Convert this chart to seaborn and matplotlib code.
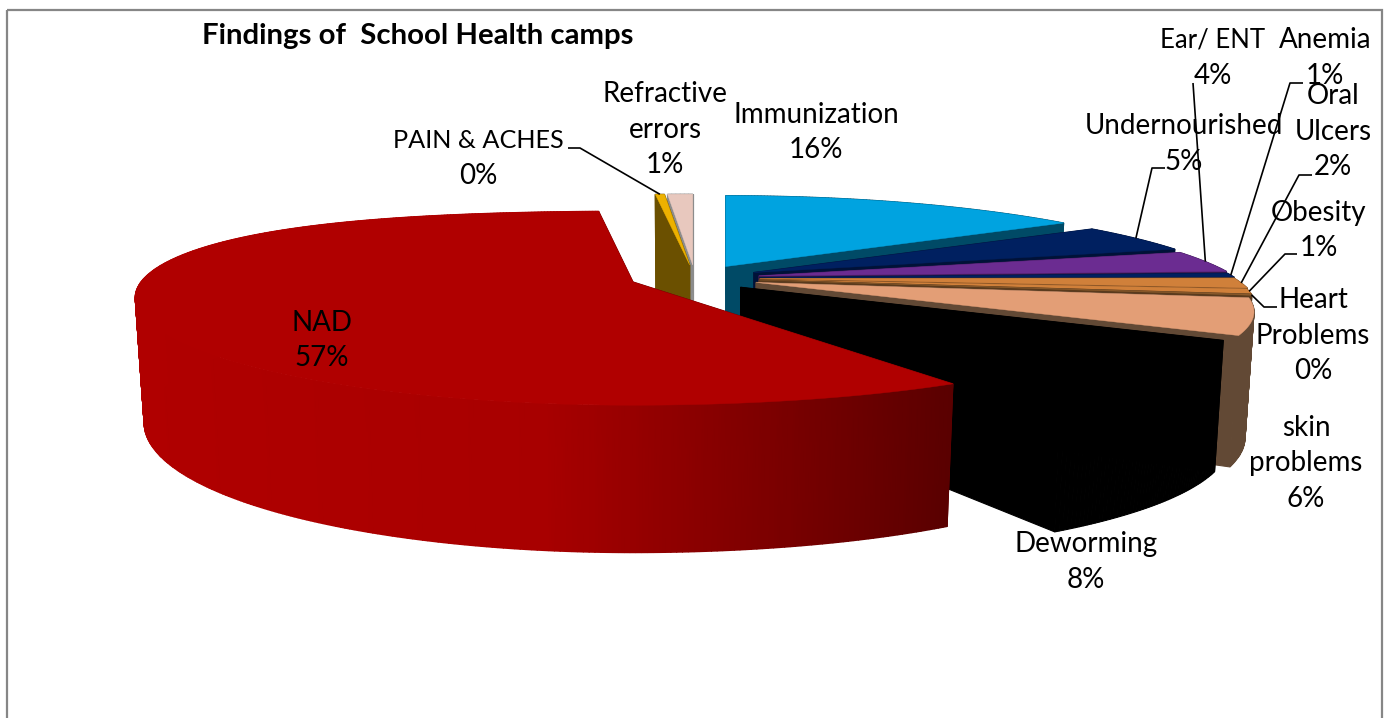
import numpy as np
import seaborn as sns
import matplotlib.pyplot as plt
from matplotlib.patches import Rectangle

# clockwise from the top of the pie, in percent
names = [
    "Immunization", "Undernourished", "Ear/ ENT", "Anemia", "Oral\nUlcers",
    "Obesity", "Heart\nProblems", "skin\nproblems", "Deworming", "NAD",
    "PAIN & ACHES", "Refractive\nerrors",
]
values = [15.6, 4.9, 3.7, 0.7, 1.7, 0.8, 0.2, 5.9, 8.2, 56.8, 0.4, 1.1]
top_colors = [
    "#00A3E0", "#002060", "#6B2C91", "#002060", "#D0803A", "#D0803A",
    "#8A5A2B", "#E39E76", "#000000", "#B00000", "#EDB100", "#E8C8BE",
]
side_colors = [
    "#004A66", "#001238", "#3E1A55", "#001238", "#7A4B22", "#7A4B22",
    "#5A3A1C", "#624935", "#000000", "#6E0000", "#6B5000", "#8C8C8C",
]
# painter's order, back to front
draw_order = [0, 11, 10, 1, 2, 3, 4, 5, 6, 7, 8, 9]

# label centre (first line) and optional leader start/elbow
label_pos = [
    (816, 115), (1184, 126), (1213, 40), (1325, 40), (1333, 96), (1319, 213),
    (1313, 300), (1306, 428), (1086, 544), (322, 323), (478, 140), (665, 94),
]
label_size = {2: 18.5, 10: 18.2}
leader_elbow = {
    1: [(1165, 168), (1152, 168)],
    2: [(1193, 83)],
    3: [(1303, 83), (1290, 83)],
    4: [(1312, 175), (1299, 175)],
    5: [(1297, 254), (1285, 254)],
    6: [(1277, 307), (1264, 307)],
    10: [(568, 148), (580, 148)],
}

CX, CY = 695, 278
RX, RY = 475, 90
KX, KY = 0.30, 0.27
HEIGHT = 118
EX, EY = 65, 13
ROTATION = 0
BOTTOM_SHRINK = 0.982


def rim(theta):
    s, c = np.sin(theta), np.cos(theta)
    x = RX * s / (1 + KX * c)
    # left side of the pie sits a little higher than the right
    y = -RY * c / (1 + KY * c) + 15 * s * np.abs(np.minimum(s, 0))
    return x, y


def drop(theta):
    return HEIGHT / (1 + 0.2 * np.cos(theta))


sns.set_theme(style="white")
plt.rcParams["font.family"] = ["Lato", "DejaVu Sans"]

fig, ax = plt.subplots(figsize=(13.89, 7.18), dpi=100)
ax.set_position([0, 0, 1, 1])
ax.axis("off")

ax.add_patch(Rectangle((7, 10), 1375, 730, fill=False, ec="#868686", lw=1.6))

edges = np.radians(ROTATION + np.cumsum([0] + values) / sum(values) * 360)
red_ramp = sns.blend_palette(["#B00000", "#A80000", "#5A0000"], as_cmap=True)
tips = {}

for i in draw_order:
    a, b = edges[i], edges[i + 1]
    mid = (a + b) / 2
    ax0 = CX + EX * np.sin(mid)
    ay0 = CY - EY * np.cos(mid)
    theta = np.linspace(a, b, max(3, int(np.degrees(b - a) * 2)))
    x, y = rim(theta)
    x, y = ax0 + x, ay0 + y
    xb = ax0 + (x - ax0) * BOTTOM_SHRINK  # floor of the pie is further away
    yb = y + drop(theta)
    tips[i] = (ax0 + rim(mid)[0], ay0 + rim(mid)[1])

    # cut faces
    for k in (0, -1):
        ax.fill(
            [ax0, x[k], xb[k], ax0],
            [ay0, y[k], yb[k], ay0 + HEIGHT],
            color=side_colors[i],
            lw=0.8,
        )
    # outer wall, NAD gets the dark ramp running to the right
    if i == 9:
        ax.pcolormesh(
            np.array([x, xb]),
            np.array([y, yb]),
            np.array([x, x]),
            cmap=red_ramp,
            shading="gouraud",
        )
    else:
        for k in range(len(theta) - 1):
            ax.fill(
                [x[k], x[k + 1], xb[k + 1], xb[k]],
                [y[k], y[k + 1], yb[k + 1], yb[k]],
                color=side_colors[i],
                lw=0.8,
            )
    ax.fill(np.r_[ax0, x], np.r_[ay0, y], color=top_colors[i], lw=0.3)

for i, elbow in leader_elbow.items():
    pts = elbow + [tips[i]]
    ax.plot(*zip(*pts), color="black", lw=1.2, solid_capstyle="butt")

for i, (name, v, (lx, ly)) in enumerate(zip(names, values, label_pos)):
    lines = name.split("\n") + [f"{round(v)}%"]
    for n, line in enumerate(lines):
        ax.text(
            lx, ly + n * 35.5, line, ha="center", va="center",
            fontsize=label_size.get(i, 20) if n == 0 else 20, color="black",
        )

ax.text(
    202, 36, "Findings of  School Health camps", ha="left", va="center",
    fontsize=21.2, fontweight="bold", color="black",
)

ax.set_xlim(0, 1389)
ax.set_ylim(718, 0)
plt.savefig("out.png", dpi=100)
